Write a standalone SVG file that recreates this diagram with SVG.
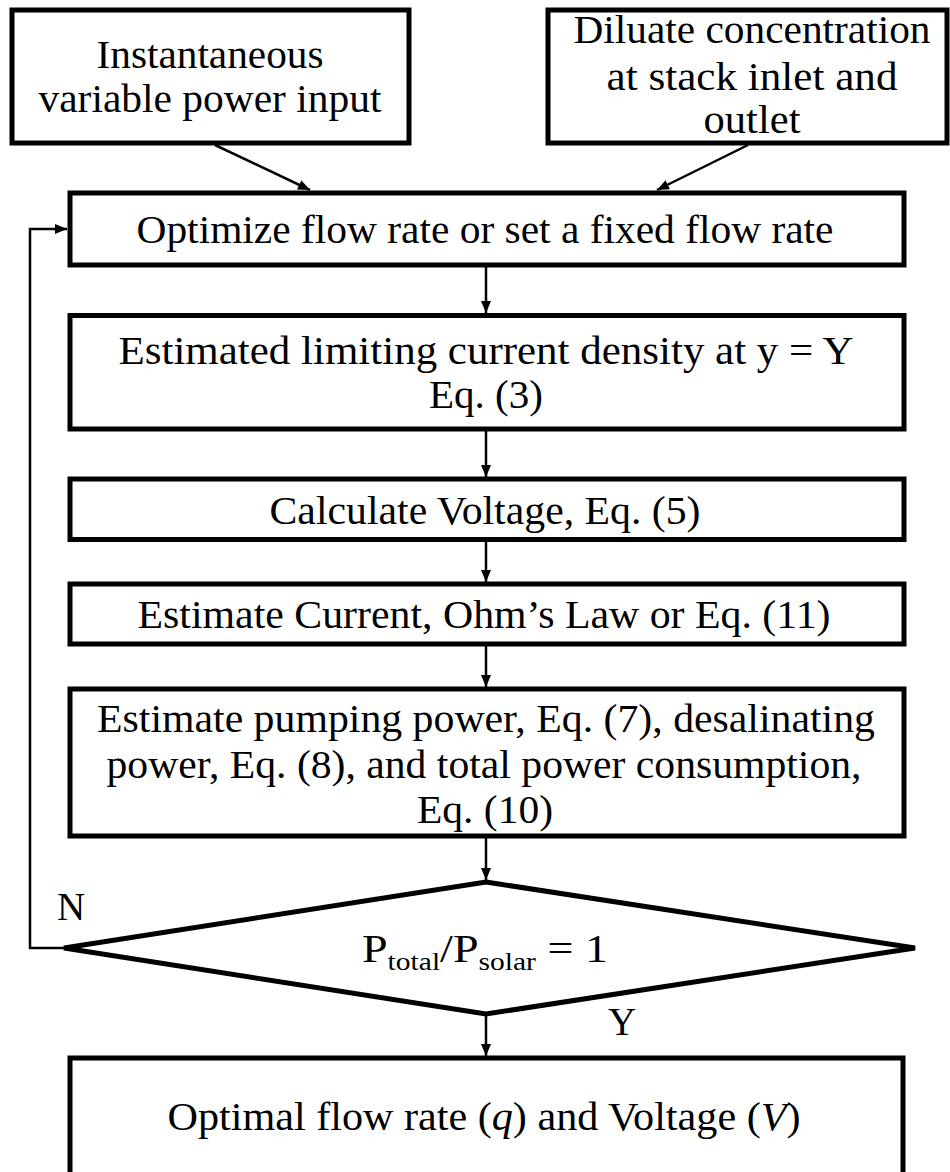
<svg xmlns="http://www.w3.org/2000/svg" width="950" height="1172" viewBox="0 0 950 1172">
<style>
.box{fill:#fff;stroke:#000;stroke-width:5}
.t{font-family:"Liberation Serif","DejaVu Serif",serif;font-size:39px;fill:#000;text-anchor:middle}
.sub{font-size:25px}
.c{fill:none;stroke:#000;stroke-width:2.5}
</style>
<defs>
<marker id="ah" viewBox="0 0 12 10" refX="12" refY="5" markerWidth="12" markerHeight="10" markerUnits="userSpaceOnUse" orient="auto">
<path d="M0,0 L12,5 L0,10 z" fill="#000"/>
</marker>
</defs>
<rect width="950" height="1172" fill="#fff"/>
<g id="connectors">
<line class="c" x1="215" y1="145" x2="310" y2="190" marker-end="url(#ah)"/>
<line class="c" x1="748" y1="145" x2="657" y2="190" marker-end="url(#ah)"/>
<line class="c" x1="486" y1="267" x2="486" y2="313" marker-end="url(#ah)"/>
<line class="c" x1="486" y1="431" x2="486" y2="477" marker-end="url(#ah)"/>
<line class="c" x1="486" y1="542" x2="486" y2="582" marker-end="url(#ah)"/>
<line class="c" x1="486" y1="646" x2="486" y2="687" marker-end="url(#ah)"/>
<line class="c" x1="486" y1="838" x2="486" y2="880" marker-end="url(#ah)"/>
<line class="c" x1="486" y1="1016" x2="486" y2="1056" marker-end="url(#ah)"/>
<polyline class="c" points="64,948 30,948 30,229 67,229" marker-end="url(#ah)"/>
</g>
<g id="n1">
<rect class="box" x="12" y="10" width="397" height="133"/>
<text class="t" x="210" y="68" textLength="227" lengthAdjust="spacingAndGlyphs">Instantaneous</text>
<text class="t" x="210" y="112" textLength="343" lengthAdjust="spacingAndGlyphs">variable power input</text>
</g>
<g id="n2">
<rect class="box" x="548" y="10" width="399" height="133"/>
<text class="t" x="752" y="43" textLength="357" lengthAdjust="spacingAndGlyphs">Diluate concentration</text>
<text class="t" x="752" y="90" textLength="291" lengthAdjust="spacingAndGlyphs">at stack inlet and</text>
<text class="t" x="752" y="133" textLength="97" lengthAdjust="spacingAndGlyphs">outlet</text>
</g>
<g id="n3">
<rect class="box" x="70" y="193" width="834" height="72"/>
<text class="t" x="485" y="243" textLength="697" lengthAdjust="spacingAndGlyphs">Optimize flow rate or set a fixed flow rate</text>
</g>
<g id="n4">
<rect class="box" x="70" y="315.5" width="834" height="113.5"/>
<text class="t" x="486" y="364" textLength="735" lengthAdjust="spacingAndGlyphs">Estimated limiting current density at y = Y</text>
<text class="t" x="486" y="408" textLength="114" lengthAdjust="spacingAndGlyphs">Eq. (3)</text>
</g>
<g id="n5">
<rect class="box" x="70" y="479" width="834" height="60.5"/>
<text class="t" x="485" y="524" textLength="431" lengthAdjust="spacingAndGlyphs">Calculate Voltage, Eq. (5)</text>
</g>
<g id="n6">
<rect class="box" x="70" y="584" width="834" height="60"/>
<text class="t" x="484" y="628" textLength="693" lengthAdjust="spacingAndGlyphs">Estimate Current, Ohm’s Law or Eq. (11)</text>
</g>
<g id="n7">
<rect class="box" x="70" y="689" width="834" height="147"/>
<text class="t" x="486" y="732" textLength="778" lengthAdjust="spacingAndGlyphs">Estimate pumping power, Eq. (7), desalinating</text>
<text class="t" x="484" y="778" textLength="755" lengthAdjust="spacingAndGlyphs">power, Eq. (8), and total power consumption,</text>
<text class="t" x="485" y="823" textLength="136" lengthAdjust="spacingAndGlyphs">Eq. (10)</text>
</g>
<g id="n8">
<polygon class="box" points="486,882 915,948 486,1014 64,948"/>
<text class="t" x="485" y="962" textLength="246" lengthAdjust="spacingAndGlyphs">P<tspan class="sub" dy="8">total</tspan><tspan dy="-8">/P</tspan><tspan class="sub" dy="8">solar</tspan><tspan dy="-8"> = 1</tspan></text>
<text class="t" x="71" y="920">N</text>
<text class="t" x="622" y="1035">Y</text>
</g>
<g id="n9">
<rect class="box" x="70" y="1058" width="833" height="130"/>
<text class="t" x="484" y="1130" textLength="633" lengthAdjust="spacingAndGlyphs">Optimal flow rate (<tspan font-style="italic">q</tspan>) and Voltage (<tspan font-style="italic">V</tspan>)</text>
</g>
</svg>
